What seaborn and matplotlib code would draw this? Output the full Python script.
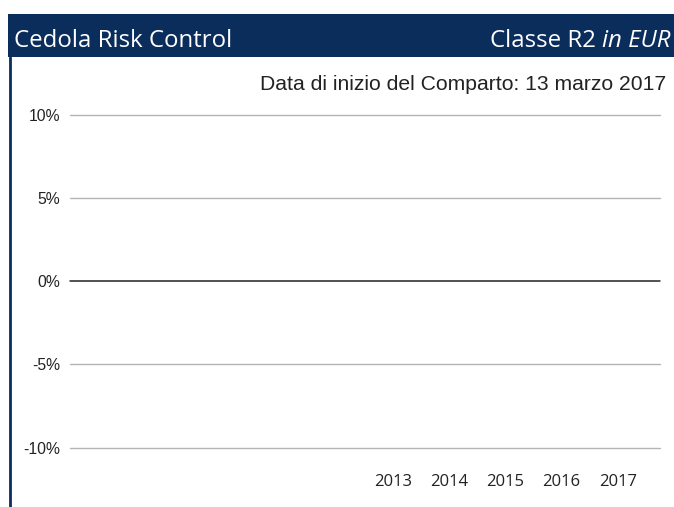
import numpy as np
import pandas as pd
import matplotlib
matplotlib.use("Agg")
import matplotlib.pyplot as plt
import seaborn as sns

# ---- data ----
years = ["2013", "2014", "2015", "2016", "2017"]
fund_returns = [np.nan, np.nan, np.nan, np.nan, np.nan]  # no performance data shown
y_ticks = [-10, -5, 0, 5, 10]
y_tick_labels = ["-10%", "-5%", "0%", "5%", "10%"]
title_left = "Cedola Risk Control"
title_right = "Classe R2 "
title_right_it = "in EUR"
subtitle = "Data di inizio del Comparto: 13 marzo 2017"

NAVY = "#0B2D5C"

sns.set_theme(style="white")
plt.rcParams["font.family"] = ["Liberation Sans", "DejaVu Sans"]

W, H = 674, 507
fig = plt.figure(figsize=(W / 100, H / 100), dpi=100)

df = pd.DataFrame({"year": years, "ret": fund_returns})

ax = fig.add_axes([70 / W, 1 - 447.7 / H, (660 - 70) / W, (447.7 - 114.7) / H])
try:
    sns.barplot(data=df, x="year", y="ret", order=years, color=NAVY, ax=ax)
except Exception:
    pass

ax.set_xlim(-5.75, 4.75)
ax.set_ylim(-10, 10)
for v in y_ticks:
    if v == 0:
        ax.axhline(v, color="#222222", lw=1.1, zorder=3, clip_on=False)
    else:
        ax.axhline(v, color="#b4b4b4", lw=1.0, zorder=1, clip_on=False)
ax.set_yticks(y_ticks)
ax.set_yticklabels(y_tick_labels, fontsize=11.3, color="#222222")
ax.set_xticks(range(len(years)))
ax.set_xticklabels(years, fontsize=12, color="#222222", family=["Open Sans", "DejaVu Sans"])
ax.tick_params(axis="y", length=0, pad=7)
ax.tick_params(axis="x", length=0, pad=19)
ax.set_xlabel("")
ax.set_ylabel("")
for s in ax.spines.values():
    s.set_visible(False)
ax.patch.set_alpha(0)

# header band
band = fig.add_axes([8 / W, 1 - 57 / H, (W - 8) / W, 43 / H])
band.set_facecolor(NAVY)
band.set_xticks([]); band.set_yticks([])
for s in band.spines.values():
    s.set_visible(False)

base_y = 1 - 47.3 / H
fig.text(14 / W, base_y, title_left, color="white", fontsize=17.3,
         family=["Open Sans", "DejaVu Sans"], va="baseline", ha="left")
t_it = fig.text(671 / W, base_y, title_right_it, color="white", fontsize=17.3,
                family=["Open Sans", "DejaVu Sans"], style="italic", va="baseline", ha="right")
fig.canvas.draw()
bb = t_it.get_window_extent()
fig.text(bb.x0 / W, base_y, title_right, color="white", fontsize=17.3,
         family=["Open Sans", "DejaVu Sans"], va="baseline", ha="right")

# left vertical rule
fig.add_artist(plt.Line2D([9.5 / W, 9.5 / W], [0, 1 - 57 / H], color=NAVY, lw=2))

fig.text(666 / W, 1 - 90 / H, subtitle, fontsize=15.2, color="#222222",
         ha="right", va="baseline")

fig.savefig("out.png", dpi=100, facecolor="white")
